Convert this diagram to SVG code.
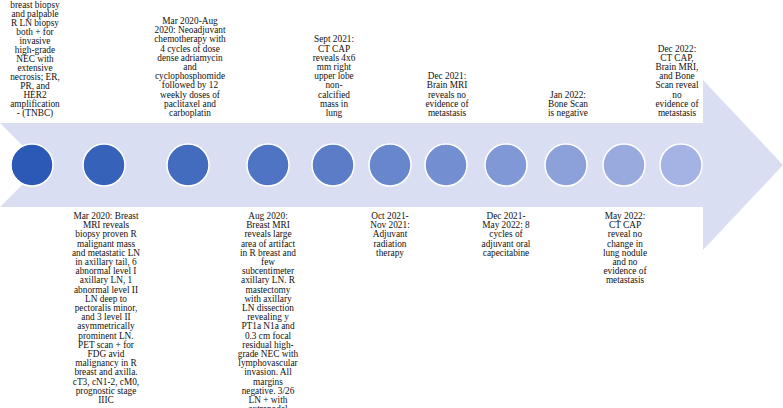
<svg xmlns="http://www.w3.org/2000/svg" width="783" height="408" viewBox="0 0 783 408">
<style>
.t{font-family:"Liberation Serif","Times New Roman",serif;font-size:9.3px;fill:#111;text-anchor:middle}
.c{stroke:#fff;stroke-width:1.5}
</style>
<rect width="783" height="408" fill="#fff"/>
<g id="arrow">
<polygon points="0,123 703,123 703,80 783,165 703,250 703,207 0,207 42,165" fill="#D9DEF3"/>
</g>
<g id="e1">
<circle class="c" cx="32" cy="165" r="21" fill="#2B59B5"/>
<text class="t"><tspan x="35" y="7.5">breast biopsy</tspan><tspan x="35" y="16.5">and palpable</tspan><tspan x="35" y="25.5">R LN biopsy</tspan><tspan x="35" y="34.5">both + for</tspan><tspan x="35" y="43.5">invasive</tspan><tspan x="35" y="52.5">high-grade</tspan><tspan x="35" y="61.5">NEC with</tspan><tspan x="35" y="70.5">extensive</tspan><tspan x="35" y="79.5">necrosis; ER,</tspan><tspan x="35" y="88.5">PR, and</tspan><tspan x="35" y="97.5">HER2</tspan><tspan x="35" y="106.5">amplification</tspan><tspan x="35" y="115.5">- (TNBC)</tspan></text>
</g>
<g id="e2">
<circle class="c" cx="104" cy="165" r="21" fill="#3762BA"/>
<text class="t"><tspan x="106" y="219">Mar 2020: Breast</tspan><tspan x="106" y="228.2">MRI reveals</tspan><tspan x="106" y="237.4">biopsy proven R</tspan><tspan x="106" y="246.6">malignant mass</tspan><tspan x="106" y="255.8">and metastatic LN</tspan><tspan x="106" y="265">in axillary tail, 6</tspan><tspan x="106" y="274.2">abnormal level I</tspan><tspan x="106" y="283.4">axillary LN, 1</tspan><tspan x="106" y="292.6">abnormal level II</tspan><tspan x="106" y="301.8">LN deep to</tspan><tspan x="106" y="311">pectoralis minor,</tspan><tspan x="106" y="320.2">and 3 level II</tspan><tspan x="106" y="329.4">asymmetrically</tspan><tspan x="106" y="338.6">prominent LN.</tspan><tspan x="106" y="347.8">PET scan + for</tspan><tspan x="106" y="357">FDG avid</tspan><tspan x="106" y="366.2">malignancy in R</tspan><tspan x="106" y="375.4">breast and axilla.</tspan><tspan x="106" y="384.6">cT3, cN1-2, cM0,</tspan><tspan x="106" y="393.8">prognostic stage</tspan><tspan x="106" y="403">IIIC</tspan></text>
</g>
<g id="e3">
<circle class="c" cx="188" cy="165" r="21" fill="#436BBE"/>
<text class="t"><tspan x="190" y="23.9">Mar 2020-Aug</tspan><tspan x="190" y="33.1">2020: Neoadjuvant</tspan><tspan x="190" y="42.3">chemotherapy with</tspan><tspan x="190" y="51.5">4 cycles of dose</tspan><tspan x="190" y="60.7">dense adriamycin</tspan><tspan x="190" y="69.9">and</tspan><tspan x="190" y="79.1">cyclophosphomide</tspan><tspan x="190" y="88.3">followed by 12</tspan><tspan x="190" y="97.5">weekly doses of</tspan><tspan x="190" y="106.7">paclitaxel and</tspan><tspan x="190" y="115.9">carboplatin</tspan></text>
</g>
<g id="e4">
<circle class="c" cx="268" cy="165" r="21" fill="#4F74C3"/>
<text class="t"><tspan x="268" y="219">Aug 2020:</tspan><tspan x="268" y="228.2">Breast MRI</tspan><tspan x="268" y="237.4">reveals large</tspan><tspan x="268" y="246.6">area of artifact</tspan><tspan x="268" y="255.8">in R breast and</tspan><tspan x="268" y="265">few</tspan><tspan x="268" y="274.2">subcentimeter</tspan><tspan x="268" y="283.4">axillary LN. R</tspan><tspan x="268" y="292.6">mastectomy</tspan><tspan x="268" y="301.8">with axillary</tspan><tspan x="268" y="311">LN dissection</tspan><tspan x="268" y="320.2">revealing y</tspan><tspan x="268" y="329.4">PT1a N1a and</tspan><tspan x="268" y="338.6">0.3 cm focal</tspan><tspan x="268" y="347.8">residual high-</tspan><tspan x="268" y="357">grade NEC with</tspan><tspan x="268" y="366.2">lymphovascular</tspan><tspan x="268" y="375.4">invasion. All</tspan><tspan x="268" y="384.6">margins</tspan><tspan x="268" y="393.8">negative. 3/26</tspan><tspan x="268" y="403">LN + with</tspan><tspan x="268" y="412.2">extranodal</tspan></text>
</g>
<g id="e5">
<circle class="c" cx="333" cy="165" r="21" fill="#5B7DC7"/>
<text class="t"><tspan x="334" y="42.3">Sept 2021:</tspan><tspan x="334" y="51.5">CT CAP</tspan><tspan x="334" y="60.7">reveals 4x6</tspan><tspan x="334" y="69.9">mm right</tspan><tspan x="334" y="79.1">upper lobe</tspan><tspan x="334" y="88.3">non-</tspan><tspan x="334" y="97.5">calcified</tspan><tspan x="334" y="106.7">mass in</tspan><tspan x="334" y="115.9">lung</tspan></text>
</g>
<g id="e6">
<circle class="c" cx="390" cy="165" r="21" fill="#6886CC"/>
<text class="t"><tspan x="390" y="219">Oct 2021-</tspan><tspan x="390" y="228.2">Nov 2021:</tspan><tspan x="390" y="237.4">Adjuvant</tspan><tspan x="390" y="246.6">radiation</tspan><tspan x="390" y="255.8">therapy</tspan></text>
</g>
<g id="e7">
<circle class="c" cx="446" cy="165" r="21" fill="#748FD1"/>
<text class="t"><tspan x="447" y="79.1">Dec 2021:</tspan><tspan x="447" y="88.3">Brain MRI</tspan><tspan x="447" y="97.5">reveals no</tspan><tspan x="447" y="106.7">evidence of</tspan><tspan x="447" y="115.9">metastasis</tspan></text>
</g>
<g id="e8">
<circle class="c" cx="506" cy="165" r="21" fill="#8098D5"/>
<text class="t"><tspan x="506" y="219">Dec 2021-</tspan><tspan x="506" y="228.2">May 2022: 8</tspan><tspan x="506" y="237.4">cycles of</tspan><tspan x="506" y="246.6">adjuvant oral</tspan><tspan x="506" y="255.8">capecitabine</tspan></text>
</g>
<g id="e9">
<circle class="c" cx="566" cy="165" r="21" fill="#8CA1DA"/>
<text class="t"><tspan x="568" y="97.5">Jan 2022:</tspan><tspan x="568" y="106.7">Bone Scan</tspan><tspan x="568" y="115.9">is negative</tspan></text>
</g>
<g id="e10">
<circle class="c" cx="624" cy="165" r="21" fill="#98AADE"/>
<text class="t"><tspan x="625" y="219">May 2022:</tspan><tspan x="625" y="228.2">CT CAP</tspan><tspan x="625" y="237.4">reveal no</tspan><tspan x="625" y="246.6">change in</tspan><tspan x="625" y="255.8">lung nodule</tspan><tspan x="625" y="265">and no</tspan><tspan x="625" y="274.2">evidence of</tspan><tspan x="625" y="283.4">metastasis</tspan></text>
</g>
<g id="e11">
<circle class="c" cx="681" cy="165" r="21" fill="#A4B3E3"/>
<text class="t"><tspan x="677" y="51.5">Dec 2022:</tspan><tspan x="677" y="60.7">CT CAP,</tspan><tspan x="677" y="69.9">Brain MRI,</tspan><tspan x="677" y="79.1">and Bone</tspan><tspan x="677" y="88.3">Scan reveal</tspan><tspan x="677" y="97.5">no</tspan><tspan x="677" y="106.7">evidence of</tspan><tspan x="677" y="115.9">metastasis</tspan></text>
</g>
<g id="connectors"/>
</svg>
